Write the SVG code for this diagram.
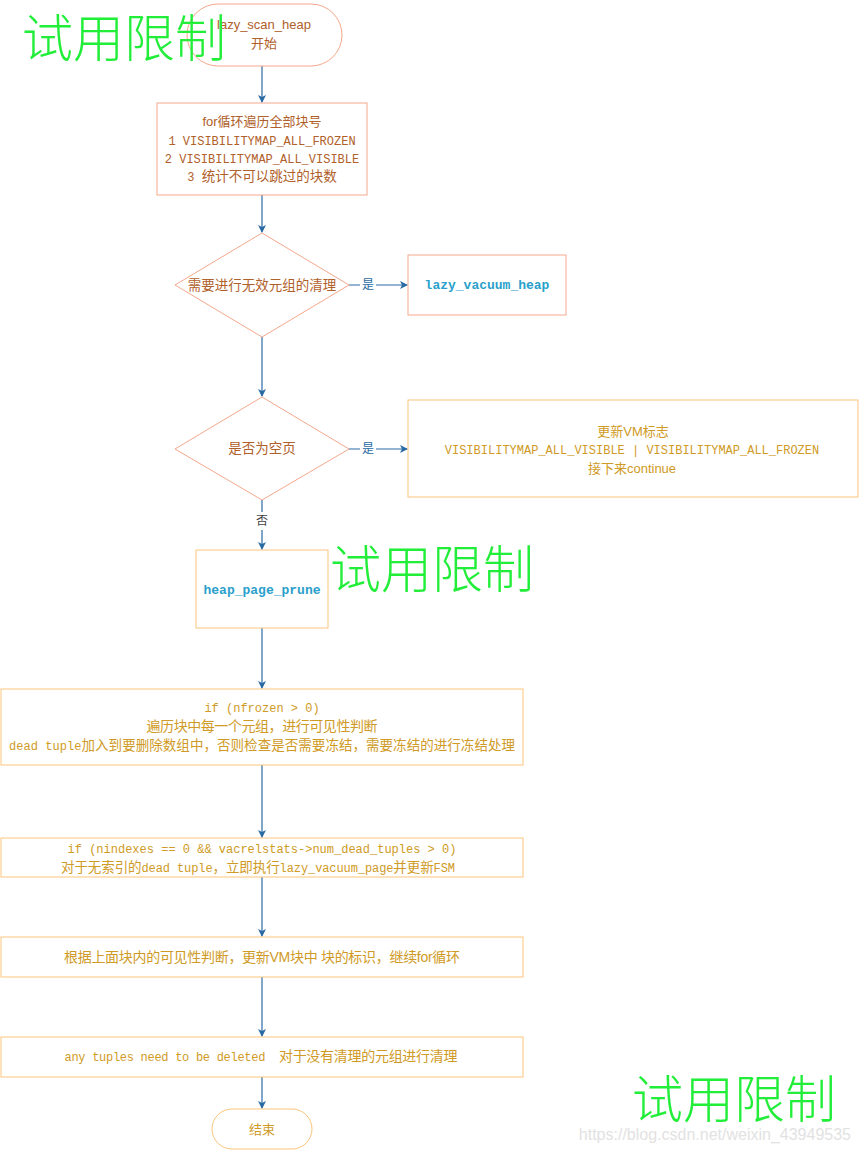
<svg xmlns="http://www.w3.org/2000/svg" width="860" height="1151" viewBox="0 0 860 1151">
<style>
.bg{fill:#ffffff}
.n1{fill:#ffffff;stroke:#f4a88c;stroke-width:1}
.n2{fill:#ffffff;stroke:#fcc57d;stroke-width:1}
.sans{font-family:"Liberation Sans","Noto Sans CJK SC",sans-serif;font-size:13px;text-anchor:middle}
.mono{font-family:"Liberation Mono","Noto Sans CJK SC",monospace;font-size:12px;text-anchor:middle;white-space:pre}
.cj{font-family:"Noto Sans CJK SC",sans-serif;font-size:13.5px}
.t1{fill:#b0602a}
.t2{fill:#cf9a25}
.fn{font-family:"Liberation Mono",monospace;font-size:13px;font-weight:bold;fill:#2a9fcb;text-anchor:middle}
.edge{stroke:#2a6aa3;stroke-width:1.2;fill:none}
.lbl{font-family:"Noto Sans CJK SC",sans-serif;font-size:12px;fill:#2a6aa3;text-anchor:middle}
.wm{font-family:"Noto Sans CJK SC",sans-serif;font-size:51px;fill:#22ee3a;font-weight:300}
</style>
<defs>
<marker id="ah" markerWidth="8" markerHeight="8" refX="7" refY="4" orient="auto" markerUnits="userSpaceOnUse">
<path d="M0,0 L8,4 L0,8 L2,4 z" fill="#2a6aa3"/>
</marker>
</defs>
<rect class="bg" x="0" y="0" width="860" height="1151"/>

<g id="connectors">
<line class="edge" x1="262" y1="66" x2="262" y2="102" marker-end="url(#ah)"/>
<line class="edge" x1="262" y1="195" x2="262" y2="232" marker-end="url(#ah)"/>
<path class="edge" d="M349,285 H360 M376,285 H407" marker-end="url(#ah)"/>
<text class="lbl" x="368" y="289">是</text>
<line class="edge" x1="262" y1="337" x2="262" y2="396" marker-end="url(#ah)"/>
<path class="edge" d="M349,449 H360 M376,449 H407" marker-end="url(#ah)"/>
<text class="lbl" x="368" y="453">是</text>
<path class="edge" d="M262,500 V512 M262,530 V549" marker-end="url(#ah)"/>
<text class="lbl" x="262" y="525" style="fill:#444">否</text>
<line class="edge" x1="262" y1="628" x2="262" y2="688" marker-end="url(#ah)"/>
<line class="edge" x1="262" y1="765" x2="262" y2="837" marker-end="url(#ah)"/>
<line class="edge" x1="262" y1="877" x2="262" y2="936" marker-end="url(#ah)"/>
<line class="edge" x1="262" y1="977" x2="262" y2="1036" marker-end="url(#ah)"/>
<line class="edge" x1="262" y1="1077" x2="262" y2="1108" marker-end="url(#ah)"/>
</g>

<g id="start">
<rect class="n1" x="187" y="4" width="155" height="62" rx="31"/>
<text class="sans t1" x="264" y="29">lazy_scan_heap</text>
<text class="sans t1" x="264" y="48">开始</text>
</g>

<g id="loop">
<rect class="n1" x="157" y="103" width="210" height="92"/>
<text class="sans t1" x="262" y="126">for循环遍历全部块号</text>
<text class="mono t1" x="262" y="145">1 VISIBILITYMAP_ALL_FROZEN</text>
<text class="mono t1" x="262" y="163">2 VISIBILITYMAP_ALL_VISIBLE</text>
<text class="mono t1" x="262" y="181">3 <tspan class="cj">统计不可以跳过的块数</tspan></text>
</g>

<g id="dec1">
<polygon class="n1" points="262,233 349,285 262,337 175,285"/>
<text class="sans t1" x="262" y="290" style="font-size:13.5px">需要进行无效元组的清理</text>
</g>

<g id="vacuum">
<rect class="n1" x="408" y="255" width="158" height="60"/>
<text class="fn" x="487" y="289">lazy_vacuum_heap</text>
</g>

<g id="dec2">
<polygon class="n1" points="262,397 349,449 262,500 175,449"/>
<text class="sans t1" x="262" y="453" style="font-size:13.5px">是否为空页</text>
</g>

<g id="vmflag">
<rect class="n2" x="408" y="400" width="450" height="97"/>
<text class="sans t2" x="633" y="436">更新VM标志</text>
<text class="mono t2" x="632" y="454">VISIBILITYMAP_ALL_VISIBLE | VISIBILITYMAP_ALL_FROZEN</text>
<text class="sans t2" x="632" y="473">接下来continue</text>
</g>

<g id="prune">
<rect class="n2" x="196" y="550" width="132" height="78"/>
<text class="fn" x="262" y="594">heap_page_prune</text>
</g>

<g id="scan">
<rect class="n2" x="1" y="689" width="522" height="76"/>
<text class="mono t2" x="262" y="712">if (nfrozen &gt; 0)</text>
<text class="sans t2" x="262" y="731" textLength="231" style="font-size:14px">遍历块中每一个元组，进行可见性判断</text>
<text class="mono t2" x="262" y="750" textLength="506">dead tuple<tspan style="font-family:'Noto Sans CJK SC',sans-serif;font-size:13.5px">加入到要删除数组中，否则检查是否需要冻结，需要冻结的进行冻结处理</tspan></text>
</g>

<g id="noindex">
<rect class="n2" x="1" y="838" width="522" height="39"/>
<text class="mono t2" x="262" y="853">if (nindexes == 0 &amp;&amp; vacrelstats-&gt;num_dead_tuples &gt; 0)</text>
<text class="mono t2" x="258" y="872" textLength="394"><tspan style="font-family:'Noto Sans CJK SC',sans-serif;font-size:13.5px">对于无索引的</tspan>dead tuple<tspan style="font-family:'Noto Sans CJK SC',sans-serif;font-size:13.5px">，立即执行</tspan>lazy_vacuum_page<tspan style="font-family:'Noto Sans CJK SC',sans-serif;font-size:13.5px">并更新</tspan>FSM</text>
</g>

<g id="updvm">
<rect class="n2" x="1" y="937" width="522" height="40"/>
<text class="sans t2" x="262" y="962" textLength="396" style="font-size:14px">根据上面块内的可见性判断，更新VM块中 块的标识，继续for循环</text>
</g>

<g id="delete">
<rect class="n2" x="1" y="1037" width="522" height="40"/>
<text class="mono t2" x="261" y="1061" textLength="393">any tuples need to be deleted  <tspan style="font-family:'Noto Sans CJK SC',sans-serif;font-size:14px">对于没有清理的元组进行清理</tspan></text>
</g>

<g id="end">
<rect class="n2" x="212" y="1109" width="100" height="40" rx="20"/>
<text class="sans t2" x="262" y="1134">结束</text>
</g>

<g id="watermarks">
<text class="wm" x="22" y="57">试用限制</text>
<text class="wm" x="330" y="588">试用限制</text>
<text class="wm" x="632" y="1118">试用限制</text>
<text x="851" y="1140" style="font-family:'Liberation Sans',sans-serif;font-size:16px;fill:#e2e2e2;text-anchor:end">https://blog.csdn.net/weixin_43949535</text>
</g>
</svg>
